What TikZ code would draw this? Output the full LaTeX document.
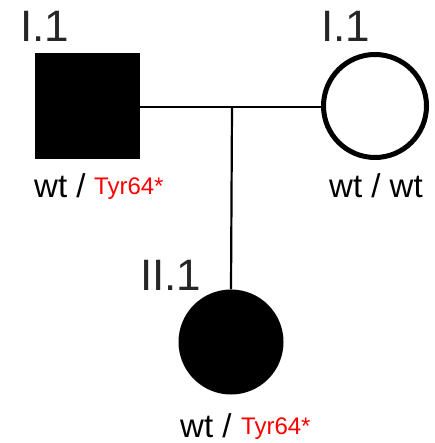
\documentclass[tikz,border=0pt]{standalone}
\usepackage{fontspec}
\setmainfont{Liberation Sans}
\begin{document}
\begin{tikzpicture}[x=1pt,y=-1pt,
  affected/.style={fill=black,draw=none,inner sep=0pt},
  unaffected/.style={draw=black,fill=white,line width=5pt,inner sep=0pt},
  link/.style={draw=black,line width=2.2pt},
  gen/.style={font=\fontsize{44}{48}\selectfont,inner sep=0pt,anchor=base west,text=black!85},
  geno/.style={font=\fontsize{33}{36}\selectfont,inner sep=0pt,anchor=base west},
  mut/.style={font=\fontsize{24}{26}\selectfont,inner sep=0pt,anchor=base west,text=red}]
\useasboundingbox (0,0) rectangle (434,443);
\fill[white] (0,0) rectangle (434,443);
% individuals
\node[affected,rectangle,minimum width=105pt,minimum height=106pt] (father) at (87.5,106) {};
\node[unaffected,circle,minimum size=103pt] (mother) at (375,106) {};
\node[affected,circle,minimum size=105pt] (child) at (231,342) {};
% connectors
\coordinate (mid) at (232,107);
\draw[link] (father.east |- mid) -- (mother.west |- mid);
\draw[link] (mid) -- (child.north);
% generation labels
\node[gen] (lf) at (20,42) {I.1};
\node[gen] (lm) at (321,42) {I.1};
\node[gen] (lc) at (140,290) {II.1};
% genotypes
\node[geno] (gf1) at (34,198) {wt /};
\node[mut] (gf2) at (94,195) {Tyr64*};
\node[geno] (gm) at (329,198) {wt / wt};
\node[geno] (gc1) at (180,437) {wt /};
\node[mut] (gc2) at (241,434) {Tyr64*};
\end{tikzpicture}
\end{document}
